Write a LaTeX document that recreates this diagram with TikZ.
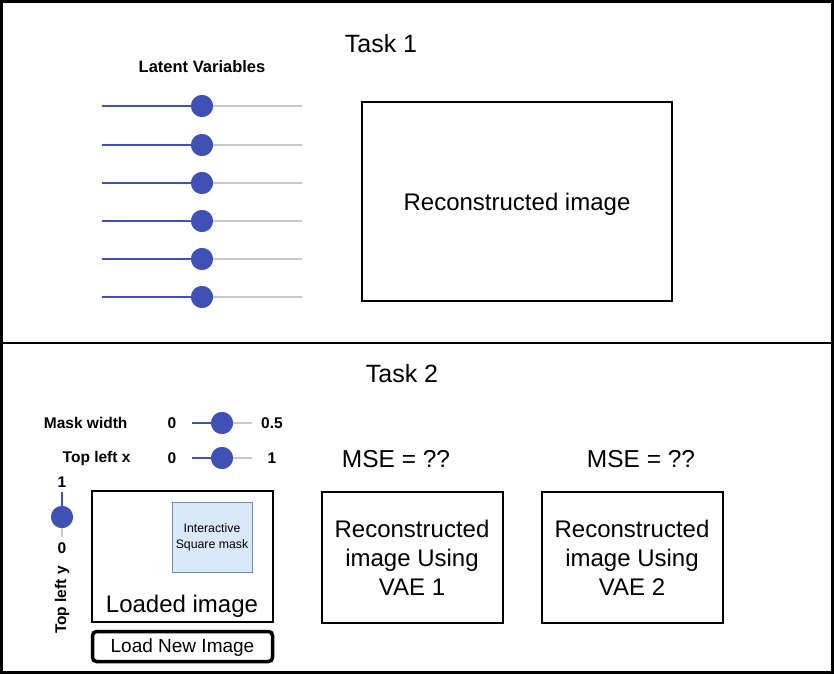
\documentclass[tikz,border=0pt]{standalone}
\usepackage{fontspec}
\setmainfont{Liberation Sans}
\begin{document}
\begin{tikzpicture}[x=1pt,y=-1pt,
  box/.style={draw=black,line width=2pt},
  lbl/.style={font=\fontsize{24}{29}\selectfont,align=center},
  small/.style={font=\fontsize{15.5}{18}\selectfont\bfseries},
  knob/.style={circle,fill=sliderblue,minimum size=22pt,inner sep=0pt},
  blueline/.style={draw=sliderblue,line width=2pt},
  grayline/.style={draw=slidergray,line width=2pt}]
\definecolor{sliderblue}{HTML}{4051B5}
\definecolor{slidergray}{HTML}{C8C8C8}
\definecolor{maskfill}{HTML}{DAE8FC}
\definecolor{maskdraw}{HTML}{6C8EBF}
\useasboundingbox (0,0) rectangle (834,674);
\draw[line width=3pt] (1.5,1.5) rectangle (832.5,672.5);
\draw[line width=1.5pt] (1.5,343) -- (832.5,343);

% Task 1
\node[lbl,font=\fontsize{25}{30}\selectfont] (t1) at (381,44) {Task 1};
\node[small,font=\fontsize{16.5}{20}\selectfont\bfseries] (lv) at (202,67) {Latent Variables};
\foreach \i/\y in {1/106,2/145,3/183,4/221,5/259,6/297}{
  \coordinate (ls\i) at (102,\y);
  \coordinate (le\i) at (302,\y);
  \node[knob] (k\i) at (202,\y) {};
  \draw[blueline] (ls\i) -- (k\i.center);
  \draw[grayline] (k\i.center) -- (le\i);
  \node[knob] at (k\i) {};
}
\node[box,minimum width=310pt,minimum height=199pt] (rec) at (517,201.5) {};
\node[lbl] (rect) at (517,204) {Reconstructed image};

% Task 2
\node[lbl,font=\fontsize{25}{30}\selectfont] (t2) at (402,374) {Task 2};
\node[small,anchor=east] (mw) at (131,423) {Mask width};
\node[small] (mw0) at (172,423) {0};
\node[small] (mw1) at (272,423) {0.5};
\coordinate (mws) at (192,423);
\coordinate (mwe) at (252,423);
\node[knob] (mwk) at (222,423) {};
\draw[blueline] (mws) -- (mwk.center);
\draw[grayline] (mwk.center) -- (mwe);
\node[knob] at (mwk) {};

\node[small,anchor=east] (tx) at (134,458) {Top left x};
\node[small] (tx0) at (172,458) {0};
\node[small] (tx1) at (272,458) {1};
\coordinate (txs) at (192,458);
\coordinate (txe) at (252,458);
\node[knob] (txk) at (222,458) {};
\draw[blueline] (txs) -- (txk.center);
\draw[grayline] (txk.center) -- (txe);
\node[knob] at (txk) {};

\node[small] (ty1) at (62,482) {1};
\node[small] (ty0) at (62,548) {0};
\coordinate (tys) at (62,492);
\coordinate (tye) at (62,537);
\node[knob] (tyk) at (62,517) {};
\draw[blueline] (tys) -- (tyk.center);
\draw[grayline] (tyk.center) -- (tye);
\node[knob] at (tyk) {};
\node[small,rotate=90] (ty) at (62,600) {Top left y};

\node[box,minimum width=181pt,minimum height=131pt] (load) at (182.5,556.5) {};
\node[draw=maskdraw,fill=maskfill,line width=0.8pt,minimum width=80pt,minimum height=70pt,
  align=center,font=\fontsize{12.3}{16}\selectfont] (mask) at (212,537) {Interactive\\Square mask};
\node[lbl] (loadt) at (182,606) {Loaded image};
\node[draw=black,line width=3.5pt,rounded corners=4pt,minimum width=180pt,minimum height=30pt] (btn) at (182.5,646.5) {};
\node[font=\fontsize{19}{22}\selectfont] (btnt) at (182.5,648) {Load New Image};

\node[lbl,font=\fontsize{24.5}{29}\selectfont] (mse1) at (396,459) {MSE = ??};
\node[lbl,font=\fontsize{24.5}{29}\selectfont] (mse2) at (641,459) {MSE = ??};
\node[box,minimum width=181pt,minimum height=131pt] (v1) at (412.5,557.5) {};
\node[lbl,font=\fontsize{24}{29}\selectfont] (v1t) at (412,558) {Reconstructed\\image Using\\VAE 1};
\node[box,minimum width=181pt,minimum height=131pt] (v2) at (632.5,557.5) {};
\node[lbl,font=\fontsize{24}{29}\selectfont] (v2t) at (632,558) {Reconstructed\\image Using\\VAE 2};
\end{tikzpicture}
\end{document}
